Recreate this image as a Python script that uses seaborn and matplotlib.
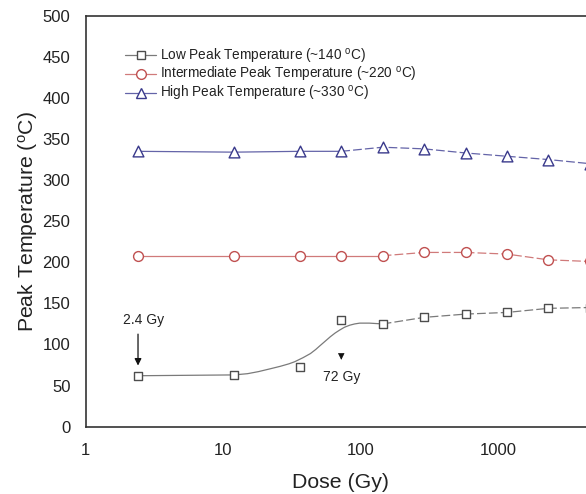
import matplotlib
matplotlib.use("Agg")
import matplotlib.pyplot as plt
import seaborn as sns
import numpy as np
from matplotlib.lines import Line2D

# ---- data ----
dose = [2.4, 12, 36, 72, 144, 288, 576, 1152, 2304, 4608]
low_peak = [62, 63, 73, 130, 125, 133, 137, 139, 144, 145]
inter_peak = [208, 208, 208, 208, 208, 212, 212, 210, 203, 201]
high_peak = [335, 334, 335, 335, 340, 338, 333, 329, 325, 320]

# smooth fitted curve of the low peak
fit_dose = [2.4, 12, 15, 18, 22, 26, 30, 33, 38, 43, 47, 50, 55, 60, 65, 70, 76, 83, 90, 98, 115, 144]
fit_low = [62, 63, 64.5, 67, 70.5, 73.5, 76.5, 79, 84, 89, 94, 98, 104, 109.5, 114, 117.5, 121, 123.5, 125, 126, 126, 125]

x_ticks = [1, 10, 100, 1000]
x_tick_labels = ["1", "10", "100", "1000"]
y_ticks = [0, 50, 100, 150, 200, 250, 300, 350, 400, 450, 500]

labels = ["Low Peak Temperature (~140 $^{\\rm o}$C)",
          "Intermediate Peak Temperature (~220 $^{\\rm o}$C)",
          "High Peak Temperature (~330 $^{\\rm o}$C)"]

sns.set_theme(style="white")
plt.rcParams["font.family"] = ["Liberation Sans", "DejaVu Sans"]
plt.rcParams["mathtext.fontset"] = "custom"
plt.rcParams["mathtext.rm"] = "Liberation Sans"
plt.rcParams["mathtext.it"] = "Liberation Sans:italic"
plt.rcParams["mathtext.bf"] = "Liberation Sans:bold"

W, H = 586, 494
fig = plt.figure(figsize=(W / 100, H / 100), dpi=100)
left_px, bottom_px, top_px = 85.7, 426.7, 15.7
decade_px = 137.6
ax = fig.add_axes([left_px / W, (H - bottom_px) / H, 4 * decade_px / W, (bottom_px - top_px) / H])

c_low_m, c_low_l = "#4d4d4d", "#7a7a7a"
c_mid_m, c_mid_l = "#c05050", "#d07a7a"
c_hi_m, c_hi_l = "#3a3a8c", "#6464a8"
dash = (0, (7, 2.5))

# low peak: fitted smooth curve then dashed segments
sns.lineplot(x=fit_dose, y=fit_low, ax=ax, color=c_low_l, linewidth=0.9, sort=False, estimator=None)
sns.lineplot(x=dose[4:], y=low_peak[4:], ax=ax, color=c_low_l, linewidth=0.9,
             linestyle=dash, sort=False, estimator=None)
# intermediate
sns.lineplot(x=dose[:5], y=inter_peak[:5], ax=ax, color=c_mid_l, linewidth=0.9, sort=False, estimator=None)
sns.lineplot(x=dose[4:], y=inter_peak[4:], ax=ax, color=c_mid_l, linewidth=0.9,
             linestyle=dash, sort=False, estimator=None)
# high
sns.lineplot(x=dose[:4], y=high_peak[:4], ax=ax, color=c_hi_l, linewidth=0.9, sort=False, estimator=None)
sns.lineplot(x=dose[3:], y=high_peak[3:], ax=ax, color=c_hi_l, linewidth=0.9,
             linestyle=dash, sort=False, estimator=None)

sns.scatterplot(x=dose, y=low_peak, ax=ax, marker="s", s=40, facecolor="white",
                edgecolor=c_low_m, linewidth=1.0, zorder=4)
sns.scatterplot(x=dose, y=inter_peak, ax=ax, marker="o", s=50, facecolor="white",
                edgecolor=c_mid_m, linewidth=1.0, zorder=4)
sns.scatterplot(x=dose, y=high_peak, ax=ax, marker="^", s=60, facecolor="white",
                edgecolor=c_hi_m, linewidth=1.0, zorder=4)

ax.set_xscale("log")
ax.set_xlim(1, 10000)
ax.set_ylim(0, 500)
ax.set_xticks(x_ticks)
ax.set_xticklabels(x_tick_labels)
ax.xaxis.set_minor_locator(matplotlib.ticker.NullLocator())
ax.set_yticks(y_ticks)
ax.tick_params(axis="both", length=0, labelsize=12, colors="#222222")
ax.tick_params(axis="y", pad=11)
ax.tick_params(axis="x", pad=12)

for s in ["left", "bottom", "top", "right"]:
    ax.spines[s].set_color("#333333")
    ax.spines[s].set_linewidth(1.2)

ax.set_xlabel("Dose (Gy)", fontsize=15.3, color="#222222")
ax.set_ylabel("Peak Temperature ($^{\\rm o}$C)", fontsize=15.3, color="#222222")
ax.xaxis.set_label_coords((340 - left_px) / (4 * decade_px), (bottom_px - 473) / (bottom_px - top_px))
ax.yaxis.set_label_coords((40 - left_px) / (4 * decade_px), 0.5)

# annotations
ax.annotate("", xy=(2.4, 71), xytext=(2.4, 116),
            arrowprops=dict(arrowstyle="-|>", color="#111111", lw=0.9, mutation_scale=10))
ax.text(2.65, 125, "2.4 Gy", ha="center", va="baseline", fontsize=10, color="#222222")
ax.annotate("", xy=(72, 78), xytext=(72, 89),
            arrowprops=dict(arrowstyle="-|>", color="#111111", lw=0.5, mutation_scale=10))
ax.text(72.6, 55, "72 Gy", ha="center", va="baseline", fontsize=10, color="#222222")

handles = [
    Line2D([], [], color=c_low_l, lw=0.9, marker="s", markersize=6, markerfacecolor="white",
           markeredgecolor=c_low_m),
    Line2D([], [], color=c_mid_l, lw=0.9, marker="o", markersize=7, markerfacecolor="white",
           markeredgecolor=c_mid_m),
    Line2D([], [], color=c_hi_l, lw=0.9, marker="^", markersize=7.5, markerfacecolor="white",
           markeredgecolor=c_hi_m),
]
leg = fig.legend(handles, labels, loc="upper left", bbox_to_anchor=(125 / W, 1 - 46.5 / H),
                 frameon=False, fontsize=9.8, handlelength=2.3, handletextpad=0.3,
                 labelspacing=-0.02, borderpad=0, borderaxespad=0)
for t in leg.get_texts():
    t.set_color("#222222")

fig.savefig("out.png", dpi=100)
